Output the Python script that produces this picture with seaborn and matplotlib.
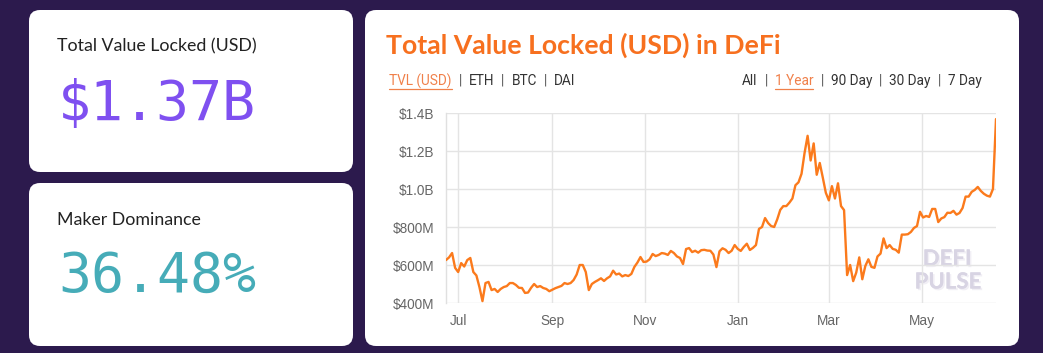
import pandas as pd
import matplotlib
matplotlib.use("Agg")
import matplotlib.pyplot as plt
import matplotlib.dates as mdates
import matplotlib.ticker as mticker
import matplotlib.patheffects as pe
from matplotlib.patches import FancyBboxPatch
from matplotlib.lines import Line2D
import seaborn as sns

W, H = 1043, 353

BG = "#2c1a4d"
ORANGE = "#fb7a1c"
TITLE_ORANGE = "#f7701f"
LINK_ORANGE = "#f0804a"
PURPLE = "#7f50f0"
TEAL = "#46acb8"

# ---------------------------------------------------------------------------
# Data (TVL in millions of USD, one reading every 2 days)
# ---------------------------------------------------------------------------

start_date = "2019-06-23"
tvl_musd = [
    626, 640, 663, 585, 563, 610, 592, 626, 637, 563,
    545, 484, 410, 505, 511, 468, 474, 458, 474, 484,
    489, 505, 505, 495, 480, 479, 453, 455, 480, 500,
    484, 489, 479, 474, 462, 470, 478, 484, 490, 505,
    500, 505, 521, 550, 600, 600, 563, 468, 500, 511,
    520, 530, 516, 530, 540, 570, 550, 555, 540, 547,
    542, 553, 590, 613, 642, 616, 618, 630, 658, 647,
    653, 663, 660, 653, 674, 663, 645, 637, 605, 684,
    689, 668, 675, 665, 678, 680, 676, 675, 655, 589,
    672, 688, 680, 663, 675, 705, 685, 674, 695, 712,
    679, 690, 705, 790, 800, 847, 821, 805, 800, 840,
    890, 910, 910, 928, 950, 1020, 1035, 1080, 1190, 1280,
    1150, 1240, 1075, 1137, 1060, 980, 940, 1015, 950, 1030,
    910, 889, 547, 600, 515, 560, 640, 525, 595, 630,
    590, 585, 645, 660, 740, 689, 705, 685, 680, 665,
    760, 760, 762, 774, 795, 805, 880, 850, 858, 853,
    895, 895, 826, 845, 852, 875, 874, 885, 865, 874,
    900, 960, 960, 985, 995, 1011, 990, 975, 965, 960,
    1000, 1368,
]
dates = pd.date_range(start_date, periods=len(tvl_musd), freq="2D")
df = pd.DataFrame({"date": dates, "tvl": tvl_musd})

y_ticks = [400, 600, 800, 1000, 1200, 1400]

card_tvl_label = "Total Value Locked (USD)"
card_tvl_value = "$1.37B"
card_dom_label = "Maker Dominance"
card_dom_value = "36.48%"
chart_title = "Total Value Locked (USD) in DeFi"
left_tabs = ["TVL (USD)", "ETH", "BTC", "DAI"]
right_tabs = ["All", "1 Year", "90 Day", "30 Day", "7 Day"]
active_tabs = ["TVL (USD)", "1 Year"]


def fx(x):
    return x / W


def fy(y):
    return 1 - y / H


# ---------------------------------------------------------------------------
# Figure & cards
# ---------------------------------------------------------------------------

sns.set_style("white")
plt.rcParams["font.family"] = ["Lato", "DejaVu Sans"]

fig = plt.figure(figsize=(W / 100, H / 100), dpi=100)
fig.patch.set_facecolor(BG)
renderer = fig.canvas.get_renderer()


def card(x0, y0, x1, y1):
    box = FancyBboxPatch(
        (x0 / 100, (H - y1) / 100), (x1 - x0) / 100, (y1 - y0) / 100,
        boxstyle="round,pad=0,rounding_size=0.11",
        transform=fig.dpi_scale_trans, facecolor="white", edgecolor="none", zorder=0.5,
    )
    fig.add_artist(box)


card(29, 10, 353, 172)
card(29, 183, 353, 346)
card(365, 10, 1019, 346)

# left cards
fig.text(fx(57), fy(46), card_tvl_label, ha="left", va="center", fontsize=12.8, color="#222222")
fig.text(fx(58), fy(105), card_tvl_value, ha="left", va="center", fontsize=39.5,
         color=PURPLE, family="DejaVu Sans Mono")
fig.text(fx(57), fy(220), card_dom_label, ha="left", va="center", fontsize=12.8, color="#222222")
fig.text(fx(58), fy(277), card_dom_value, ha="left", va="center", fontsize=39.5,
         color=TEAL, family="DejaVu Sans Mono")

# chart card header
fig.text(fx(386), fy(45), chart_title, ha="left", va="center", fontsize=19.2,
         weight="bold", color=TITLE_ORANGE)


def tab_row(labels, x_start=None, x_end=None, y=81, gap=7, size=9.8):
    # measure every token first, then lay them out with "|" separators
    texts = []
    for label in labels:
        color = LINK_ORANGE if label in active_tabs else "#333333"
        texts.append(fig.text(0, fy(y), label, ha="left", va="center", fontsize=size,
                              color=color, family="Roboto"))
    widths = [t.get_window_extent(renderer).width for t in texts]
    sep = fig.text(0, fy(y), "|", ha="center", va="center", fontsize=size, color="#555555", family="Roboto")
    sep_w = sep.get_window_extent(renderer).width
    sep.remove()
    total = sum(widths) + (len(labels) - 1) * (2 * gap + sep_w)
    x = x_start if x_start is not None else x_end - total
    for i, (t, w) in enumerate(zip(texts, widths)):
        t.set_x(fx(x))
        if t.get_text() in active_tabs:
            fig.add_artist(Line2D([fx(x), fx(x + w)], [fy(y + 8), fy(y + 8)],
                                  color=LINK_ORANGE, linewidth=0.9))
        x += w
        if i < len(labels) - 1:
            fig.text(fx(x + gap + sep_w / 2), fy(y), "|", ha="center", va="center",
                     fontsize=size, color="#555555", family="Roboto")
            x += 2 * gap + sep_w


tab_row(left_tabs, x_start=389)
tab_row(right_tabs, x_end=982)

# ---------------------------------------------------------------------------
# Line chart
# ---------------------------------------------------------------------------

ax = fig.add_axes([fx(446), fy(303), (996 - 446) / W, (303 - 113) / H])
ax.set_zorder(2)
ax.patch.set_alpha(0)

sns.lineplot(data=df, x="date", y="tvl", color=ORANGE, linewidth=1.7, ax=ax, zorder=3)

ax.set_xlim(dates[0], dates[-1])
ax.set_ylim(400, 1400)
ax.set_yticks(y_ticks)
ax.yaxis.set_major_formatter(mticker.FuncFormatter(
    lambda v, _: f"${v / 1000:.1f}B" if v >= 1000 else f"${v:.0f}M"))
ax.xaxis.set_major_locator(mdates.MonthLocator(bymonth=[1, 3, 5, 7, 9, 11]))
ax.xaxis.set_major_formatter(mdates.DateFormatter("%b"))
ax.set_xlabel("")
ax.set_ylabel("")

ax.grid(True, color="#e4e4e4", linewidth=1)
for side in ("top", "right", "bottom"):
    ax.spines[side].set_visible(False)
ax.spines["left"].set_color("#e0e0e0")
ax.spines["left"].set_linewidth(1)
ax.tick_params(axis="y", length=0, pad=8.5, labelsize=9.8, labelcolor="#666666")
ax.tick_params(axis="x", length=0, pad=8, labelsize=9.8, labelcolor="#666666")
for lab in ax.get_xticklabels() + ax.get_yticklabels():
    lab.set_family("Liberation Sans")

# watermark
shadow = [pe.withSimplePatchShadow(offset=(1.2, -1.2), shadow_rgbFace="#f1eff5", alpha=1.0), pe.Normal()]
fig.text(fx(947), fy(259), "DEFI", ha="center", va="center", fontsize=16, weight="bold",
         color="#d8d4e3", path_effects=shadow, zorder=1)
fig.text(fx(948), fy(282), "PULSE", ha="center", va="center", fontsize=16, weight="bold",
         color="#d8d4e3", path_effects=shadow, zorder=1)

fig.savefig("out.png", dpi=100, facecolor=BG)
